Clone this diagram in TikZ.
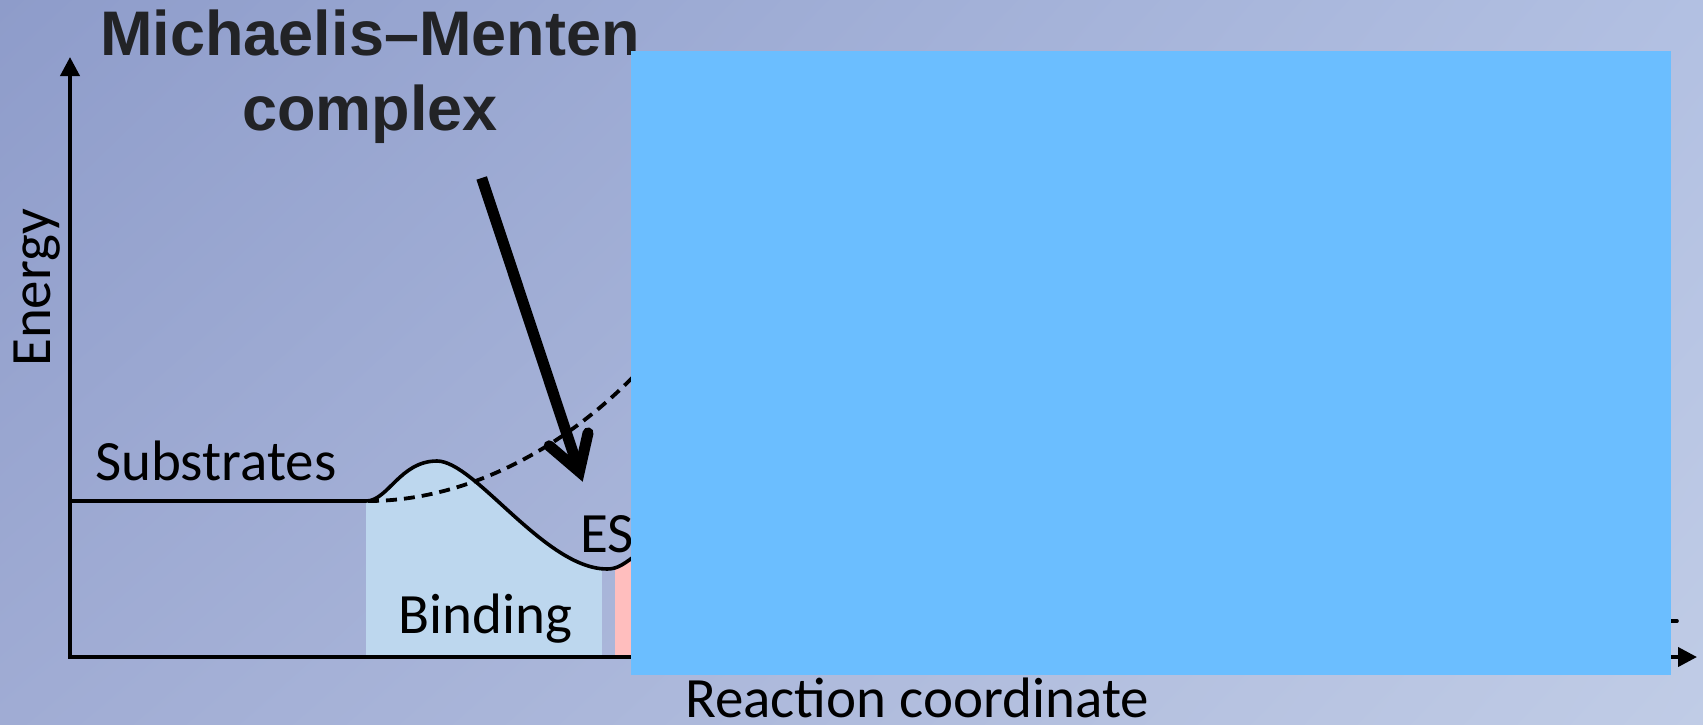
\documentclass[tikz,border=0pt]{standalone}
\usepackage{fontspec}
\setmainfont{Carlito}
\newfontfamily\titlefont{Liberation Sans}
\usetikzlibrary{arrows.meta,shadings}
\definecolor{bgTL}{RGB}{142,156,202}
\definecolor{bgTR}{RGB}{178,192,226}
\definecolor{bgBL}{RGB}{160,172,212}
\definecolor{bgBR}{RGB}{192,204,230}
\definecolor{bindblue}{RGB}{189,215,238}
\definecolor{stepred}{RGB}{255,190,190}
\definecolor{coverblue}{RGB}{107,190,255}
\definecolor{titlegray}{RGB}{34,35,38}
\tikzset{
  lbl/.style={inner sep=0pt, anchor=base west, font=\fontsize{57}{68}\selectfont},
  ttl/.style={inner sep=0pt, anchor=base, text=titlegray, font=\titlefont\bfseries\fontsize{63}{75}\selectfont},
  axisline/.style={line width=4pt, {Triangle[length=19pt,width=19pt]}-{Triangle[length=19pt,width=19pt]}},
  energyline/.style={line width=3.6pt},
  uncatline/.style={line width=3.8pt, dash pattern=on 11pt off 7pt},
  bigarrow/.style={line width=11pt, -{Straight Barb[length=34pt,width=41pt,line cap=round,line join=miter]}},
}
\begin{document}
\begin{tikzpicture}[x=1pt,y=-1pt]
\useasboundingbox (0,0) rectangle (1703,724);
\shade[upper left=bgTL, upper right=bgTR, lower left=bgBL, lower right=bgBR] (0,0) rectangle (1703,724);

% filled regions under the curve
\begin{scope}
\clip (366,501) .. controls (388,501) and (400,461) .. (437,461)
      .. controls (475,461) and (545,569) .. (607,569)
      .. controls (618,569) and (624,564) .. (640,552) -- (640,657) -- (366,657) -- cycle;
\fill[bindblue] (366,400) rectangle (602,657);
\fill[stepred] (615,400) rectangle (640,657);
\end{scope}

% axes
\coordinate (ytip) at (70,57);
\coordinate (origin) at (70,657);
\coordinate (xtip) at (1697,657);
\draw[axisline] (ytip) -- (origin) -- (xtip);

% energy profile
\coordinate (subs) at (70,501);
\coordinate (bindstart) at (366,501);
\draw[energyline] (subs) -- (bindstart) .. controls (388,501) and (400,461) .. (437,461)
      .. controls (475,461) and (545,569) .. (607,569)
      .. controls (618,569) and (624,564) .. (640,552);
\draw[uncatline] (368,501) .. controls (470,501) and (565,445) .. (630,380) -- (680,330);
\coordinate (prodA) at (1650,621);
\coordinate (prodB) at (1677,621);
\draw[energyline, line cap=round] (prodA) -- (prodB);

% labels
\node[lbl] (substrates) at (95,480) {Substrates};
\node[lbl] (binding) at (398,633) {Binding};
\node[lbl] (es) at (580,552) {ES};
\node[lbl] (rc) at (685,717) {Reaction coordinate};
\node[lbl, rotate=90] (energy) at (50,367) {Energy};
\node[ttl] (mm1) at (370,55) {Michaelis–Menten};
\node[ttl] (mm2) at (370,130) {complex};

% pointer arrow
\coordinate (mmtail) at (481.7,178);
\coordinate (mmtip) at (582.7,481.7);
\draw[bigarrow] (mmtail) -- (mmtip);

% cover box
\fill[coverblue] (631,51) rectangle (1671,675);
\end{tikzpicture}
\end{document}
